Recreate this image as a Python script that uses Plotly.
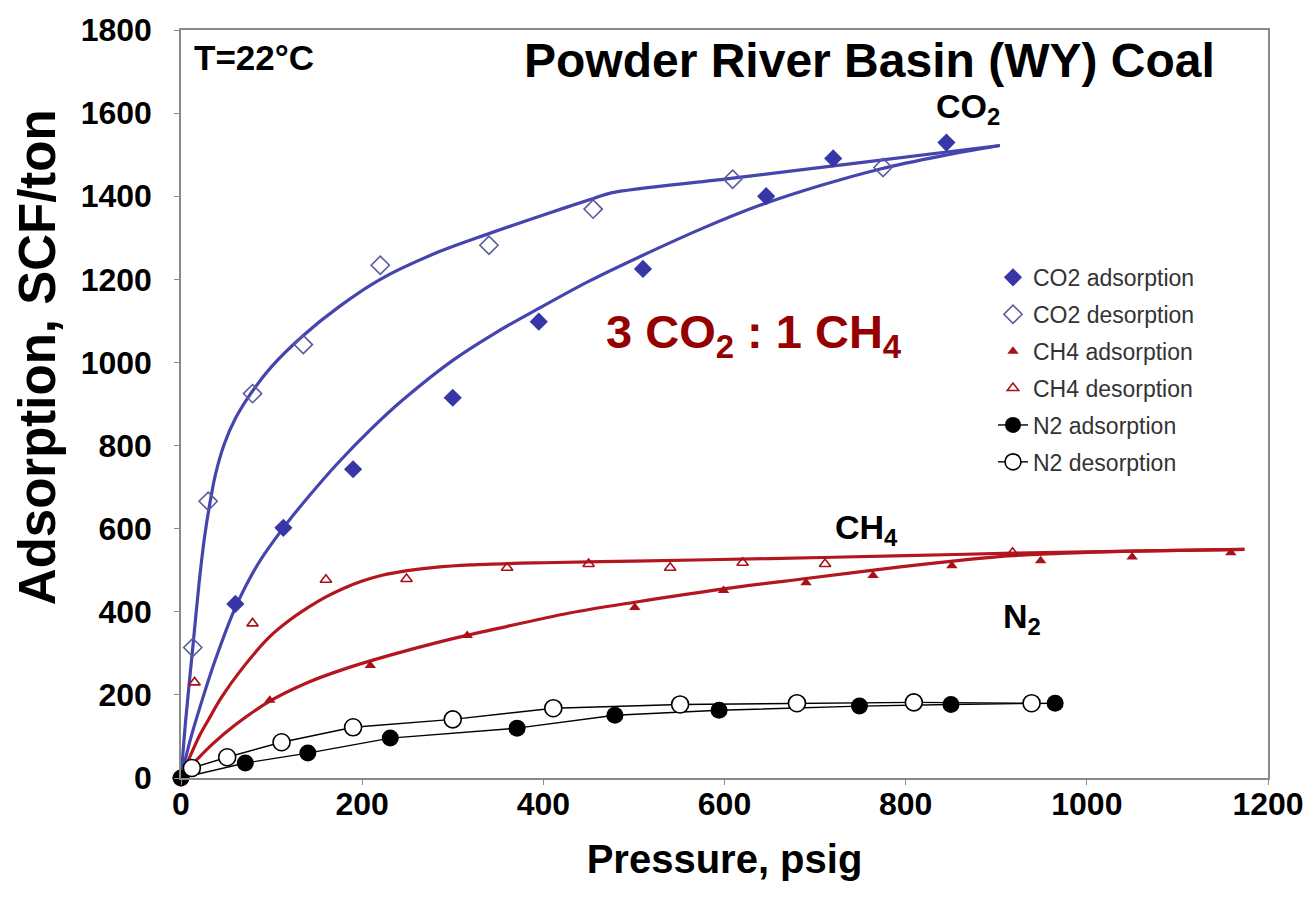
import plotly.graph_objects as go

# ---- measured isotherm points (pressure in psig, adsorption in SCF/ton) ----
co2_ads_p = [0, 60, 113, 190, 300, 395, 510, 646, 720, 845]
co2_ads_v = [0, 419, 602, 743, 915, 1098, 1225, 1400, 1491, 1529]

co2_des_p = [13, 30, 79, 135, 220, 340, 455, 609, 775]
co2_des_v = [314, 666, 925, 1043, 1234, 1282, 1369, 1441, 1469]

ch4_ads_p = [0, 98, 209, 316, 501, 599, 690, 764, 851, 949, 1050, 1159]
ch4_ads_v = [0, 187, 271, 343, 410, 451, 470, 487, 511, 523, 532, 542]

ch4_des_p = [15, 79, 160, 249, 360, 450, 540, 620, 711, 918]
ch4_des_v = [230, 372, 477, 479, 506, 515, 506, 518, 515, 542]

n2_ads_p = [0, 71, 140, 231, 371, 479, 594, 749, 850, 965]
n2_ads_v = [0, 36, 60, 96, 120, 151, 163, 173, 177, 180]

n2_des_p = [12, 51, 111, 190, 300, 411, 551, 680, 809, 939]
n2_des_v = [24, 50, 86, 122, 141, 168, 177, 180, 182, 180]

# ---- fitted trend curves ----
co2_des_fit_p = [0, 5, 13, 20, 26, 31, 38, 48, 60, 76, 100, 135, 175, 220,
                 280, 340, 400, 456, 475, 600, 750, 904]
co2_des_fit_v = [0, 135, 314, 470, 580, 650, 730, 805, 865, 922, 990, 1065,
                 1135, 1200, 1262, 1310, 1355, 1395, 1408, 1441, 1481, 1522]

co2_ads_fit_p = [0, 10, 23, 38, 60, 85, 113, 140, 172, 210, 245, 300, 350, 395,
                 450, 510, 575, 639, 705, 771, 840, 904]
co2_ads_fit_v = [0, 90, 185, 285, 410, 515, 602, 675, 755, 840, 910, 1005, 1075,
                 1130, 1195, 1258, 1322, 1378, 1425, 1465, 1497, 1522]

ch4_des_fit_p = [0, 10, 20, 30, 45, 67, 98, 120, 140, 160, 178, 200, 222, 250,
                 280, 320, 400, 500, 650, 800, 918, 1050, 1174]
ch4_des_fit_v = [0, 52, 100, 139, 195, 262, 340, 380, 410, 436, 455, 474, 488,
                 499, 507, 513, 518, 522, 528, 535, 541, 546, 550]

ch4_ads_fit_p = [0, 15, 35, 60, 98, 140, 180, 230, 290, 350, 429, 501, 599, 690,
                 794, 870, 918, 1000, 1100, 1174]
ch4_ads_fit_v = [0, 38, 82, 128, 185, 230, 262, 295, 330, 360, 397, 423, 455, 480,
                 508, 526, 535, 543, 548, 550]

x_ticks = [0, 200, 400, 600, 800, 1000, 1200]
y_ticks = [0, 200, 400, 600, 800, 1000, 1200, 1400, 1600, 1800]

BLUE = "#3636a8"
BLUE_LINE = "#4545ad"
BLUE_OPEN = "#5b5b9e"
RED = "#a8101a"
RED_LINE = "#b3161e"
FONT = "Arial, Liberation Sans, Helvetica, sans-serif"

fig = go.Figure()

# trend curves (drawn beneath the markers)
for px, py, col in [
    (co2_des_fit_p, co2_des_fit_v, BLUE_LINE),
    (co2_ads_fit_p, co2_ads_fit_v, BLUE_LINE),
    (ch4_des_fit_p, ch4_des_fit_v, RED_LINE),
    (ch4_ads_fit_p, ch4_ads_fit_v, RED_LINE),
]:
    fig.add_trace(go.Scatter(
        x=px, y=py, mode="lines", showlegend=False, hoverinfo="skip",
        line=dict(color=col, width=3.2, shape="spline", smoothing=0.9),
    ))

fig.add_trace(go.Scatter(
    x=co2_ads_p, y=co2_ads_v, mode="markers", name="CO2 adsorption",
    legendgroup="a", cliponaxis=False,
    marker=dict(symbol="diamond", size=14, color=BLUE, line=dict(width=0)),
))
fig.add_trace(go.Scatter(
    x=co2_des_p, y=co2_des_v, mode="markers", name="CO2 desorption",
    legendgroup="b", cliponaxis=False,
    marker=dict(symbol="diamond-open", size=14, color=BLUE_OPEN,
                line=dict(width=1.6, color=BLUE_OPEN)),
))
fig.add_trace(go.Scatter(
    x=ch4_ads_p, y=ch4_ads_v, mode="markers", name="CH4 adsorption",
    legendgroup="c", cliponaxis=False,
    marker=dict(symbol="triangle-up", size=10, color=RED, line=dict(width=0)),
))
fig.add_trace(go.Scatter(
    x=ch4_des_p, y=ch4_des_v, mode="markers", name="CH4 desorption",
    legendgroup="d", cliponaxis=False,
    marker=dict(symbol="triangle-up-open", size=10, color=RED,
                line=dict(width=1.6, color=RED)),
))
fig.add_trace(go.Scatter(
    x=n2_ads_p, y=n2_ads_v, mode="lines+markers", name="N2 adsorption",
    legendgroup="e", cliponaxis=False,
    line=dict(color="black", width=1.4),
    marker=dict(symbol="circle", size=17, color="black"),
))
fig.add_trace(go.Scatter(
    x=n2_des_p, y=n2_des_v, mode="lines+markers", name="N2 desorption",
    legendgroup="f", cliponaxis=False,
    line=dict(color="black", width=1.4),
    marker=dict(symbol="circle", size=17, color="white",
                line=dict(color="black", width=1.6)),
))

annotations = [
    dict(x=760, y=1727, text="<b>Powder River Basin (WY) Coal</b>",
         font=dict(size=48, color="black"), xanchor="center", yanchor="middle"),
    dict(x=12, y=1733, text="<b>T=22°C</b>",
         font=dict(size=35, color="black"), xanchor="left", yanchor="middle"),
    dict(x=869, y=1610, text="<b>CO<sub>2</sub></b>",
         font=dict(size=34, color="black"), xanchor="center", yanchor="middle"),
    dict(x=633, y=1067, text="<b>3 CO<sub>2</sub> : 1 CH<sub>4</sub></b>",
         font=dict(size=47, color="#950000"), xanchor="center", yanchor="middle"),
    dict(x=757, y=599, text="<b>CH<sub>4</sub></b>",
         font=dict(size=34, color="black"), xanchor="center", yanchor="middle"),
    dict(x=928, y=384, text="<b>N<sub>2</sub></b>",
         font=dict(size=34, color="black"), xanchor="center", yanchor="middle"),
]
for a in annotations:
    a.update(xref="x", yref="y", showarrow=False)

annotations.append(dict(
    x=-0.132, y=0.562, xref="paper", yref="paper", showarrow=False,
    text="<b>Adsorption, SCF/ton</b>", textangle=-90,
    font=dict(size=51, color="black"), xanchor="center", yanchor="middle",
))

axis_common = dict(
    showgrid=False, zeroline=False, showline=True, linecolor="#8a8a8a",
    linewidth=1.5, mirror=True, ticks="outside", ticklen=5, tickwidth=1,
    tickcolor="#8a8a8a",
    tickfont=dict(family=FONT, size=32, color="black", weight="bold"),
)

fig.update_layout(
    width=1316, height=915,
    margin=dict(l=181, r=48, t=27, b=137),
    paper_bgcolor="white", plot_bgcolor="white",
    font=dict(family=FONT),
    xaxis=dict(range=[0, 1200], tickvals=x_ticks, ticklabelstandoff=-8,
               title=dict(text="<b>Pressure, psig</b>", standoff=24,
                          font=dict(family=FONT, size=40, color="black")),
               **axis_common),
    yaxis=dict(range=[0, 1800], tickvals=y_ticks, ticklabelstandoff=16,
               **axis_common),
    legend=dict(x=0.747, y=0.698, xanchor="left", yanchor="top",
                bgcolor="rgba(0,0,0,0)", tracegroupgap=4,
                font=dict(family=FONT, size=23, color="#333333")),
    annotations=annotations,
    showlegend=True,
)

fig.write_html("out.html")
